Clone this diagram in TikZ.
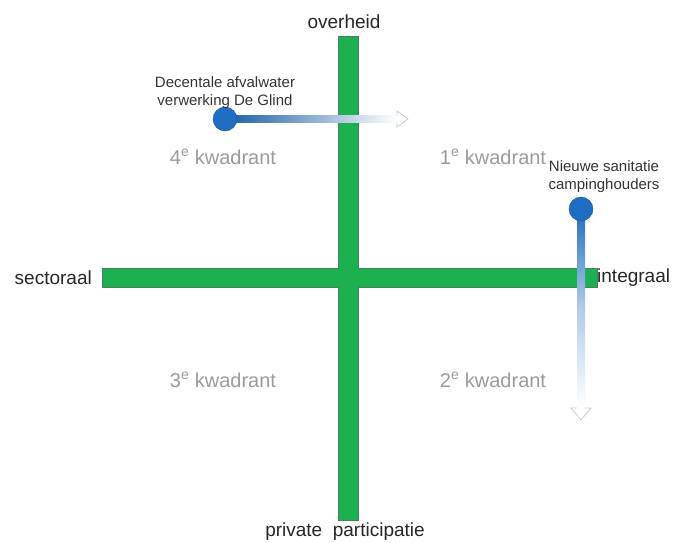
\documentclass[tikz,border=0pt]{standalone}
\usepackage{fontspec}
\setmainfont{Liberation Sans}
\usetikzlibrary{calc}
\definecolor{balkgroen}{HTML}{1DB04F}
\definecolor{balkrand}{HTML}{4A7F63}
\definecolor{stipblauw}{HTML}{1F6DC2}
\definecolor{kwadgrijs}{HTML}{9A9A9A}
\definecolor{kopgrijs}{HTML}{C8CCDA}
\begin{document}
\begin{tikzpicture}[x=1pt,y=-1pt,
	as/.style={font=\fontsize{19}{22}\selectfont,text=black!85,inner sep=0pt},
	kwad/.style={font=\fontsize{20}{22}\selectfont,text=kwadgrijs,inner sep=0pt},
	project/.style={font=\fontsize{15}{18}\selectfont,text=black!80,align=center,inner sep=0pt},
	stip/.style={circle,fill=stipblauw,draw=stipblauw!80!black,minimum size=24pt,inner sep=0pt},
	balk/.style={fill=balkgroen,draw=balkrand,line width=1pt},
	kop/.style={draw=kopgrijs,line width=.8pt,line join=miter}]
	\useasboundingbox (0,0) rectangle (680,543);
	\draw[balk] (338,37) rectangle (358,520);
	\draw[balk] (102,268) rectangle (597,287);
	\fill[balkgroen] (338.5,37.5) rectangle (357.5,519.5);
	\fill[balkgroen] (102.5,268.5) rectangle (596.5,286.5);
	\node[as] (overheid) at (344,22) {overheid};
	\node[as] (privaat) at (345,532) {private\ \ participatie};
	\node[as,anchor=east] (sectoraal) at (92,278) {sectoraal};
	\node[as,anchor=west] (integraal) at (597,278) {integraal};
	\node[kwad] (kw4) at (223,157) {4\textsuperscript{e} kwadrant};
	\node[kwad] (kw1) at (493,157) {1\textsuperscript{e} kwadrant};
	\node[kwad] (kw3) at (223,380) {3\textsuperscript{e} kwadrant};
	\node[kwad] (kw2) at (493,380) {2\textsuperscript{e} kwadrant};
	\coordinate (glindeind) at (397,119);
	\coordinate (campingeind) at (581,408);
	\shade[left color=stipblauw!85!black,right color=white] (225,115.5) rectangle ($(glindeind)+(0,3.5)$);
	\shade[top color=stipblauw,bottom color=white,middle color=stipblauw!35!white] (577,209) rectangle ($(campingeind)+(4,0)$);
	\draw[kop] ($(glindeind)+(0,-3.5)$) -- ++(0,-4.5) -- ++(11,8) -- ++(-11,8) -- ++(0,-4.5);
	\draw[kop] ($(campingeind)+(-4,0)$) -- ++(-6,0) -- ++(10,12) -- ++(10,-12) -- ++(-6,0);
	\node[stip] (glind) at (225,119) {};
	\node[stip] (camping) at (581,209) {};
	\node[project] (glindtekst) at (225,93) {Decentale afvalwater\\verwerking De Glind};
	\node[project] (campingtekst) at (604,177) {Nieuwe sanitatie\\campinghouders};
\end{tikzpicture}
\end{document}
